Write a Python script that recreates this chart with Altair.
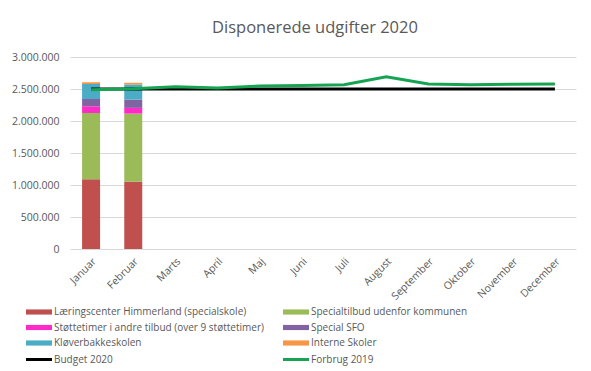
import altair as alt
import pandas as pd

months = ["Januar", "Februar", "Marts", "April", "Maj", "Juni", "Juli",
          "August", "September", "Oktober", "November", "December"]

bar_series = ["Læringscenter Himmerland (specialskole)",
              "Specialtilbud udenfor kommunen",
              "Støttetimer i andre tilbud (over 9 støttetimer)",
              "Special SFO",
              "Kløverbakkeskolen",
              "Interne Skoler"]
bar_months = ["Januar", "Februar"]
bar_values = {
    "Læringscenter Himmerland (specialskole)": [1090000, 1050000],
    "Specialtilbud udenfor kommunen": [1035000, 1065000],
    "Støttetimer i andre tilbud (over 9 støttetimer)": [105000, 90000],
    "Special SFO": [115000, 130000],
    "Kløverbakkeskolen": [235000, 235000],
    "Interne Skoler": [25000, 27000],
}

line_series = ["Budget 2020", "Forbrug 2019"]
budget_2020 = [2500000] * 12
forbrug_2019 = [2490000, 2505000, 2535000, 2515000, 2547000, 2555000,
                2567000, 2690000, 2580000, 2565000, 2575000, 2580000]

all_series = bar_series + line_series
colors = ["#C0504D", "#9BBB59", "#FF2BC8", "#8064A2", "#4BACC6", "#F79646",
          "#000000", "#16A352"]

bar_rows = []
for i, s in enumerate(bar_series):
    for j, m in enumerate(bar_months):
        bar_rows.append({"month": m, "series": s, "value": bar_values[s][j], "order": i})
bars_df = pd.DataFrame(bar_rows)

line_rows = []
for j, m in enumerate(months):
    line_rows.append({"month": m, "series": "Budget 2020", "value": budget_2020[j]})
    line_rows.append({"month": m, "series": "Forbrug 2019", "value": forbrug_2019[j]})
lines_df = pd.DataFrame(line_rows)

FONT = "Open Sans"
GREY = "#595959"

x_enc = alt.X("month:N", sort=months, title=None,
              scale=alt.Scale(domain=months, paddingInner=0, paddingOuter=0),
              axis=alt.Axis(labelAngle=-45, labelFontSize=10.5, labelColor=GREY,
                            labelFont=FONT, ticks=False, domain=False, grid=False,
                            labelPadding=7))
y_scale = alt.Scale(domain=[0, 3000000], nice=False)
y_axis = alt.Axis(values=[0, 500000, 1000000, 1500000, 2000000, 2500000, 3000000],
                  labelExpr="replace(replace(format(datum.value, ','), ',', '.'), ',', '.')",
                  labelFontSize=10.5, labelColor=GREY, labelFont=FONT, ticks=False,
                  domain=False, gridColor="#D9D9D9", gridWidth=1, labelPadding=11)

is_line = "indexof(['Budget 2020','Forbrug 2019'], datum.value) >= 0"
legend = alt.Legend(
    title=None, orient="none", legendX=-43, legendY=250, columns=2,
    direction="horizontal", columnPadding=12, rowPadding=5.5, padding=0,
    labelFont=FONT, labelFontSize=10, labelColor=GREY, labelOffset=10,
    symbolSize=144, labelLimit=400, symbolOpacity=1, symbolOffset=7,
    symbolType=alt.ExprRef(expr=is_line + " ? 'M-2.17,0H2.17' : 'M-2.17,-0.43H2.17V0.43H-2.17Z'"),
    symbolStrokeWidth=alt.ExprRef(expr=is_line + " ? 3 : 0"),
)
color_enc = alt.Color("series:N", scale=alt.Scale(domain=all_series, range=colors),
                      legend=legend)

bars = alt.Chart(bars_df).mark_bar(size=18).encode(
    x=x_enc,
    y=alt.Y("value:Q", stack="zero", scale=y_scale, axis=y_axis, title=None),
    color=color_enc,
    order=alt.Order("order:Q", sort="ascending"),
)

lines = alt.Chart(lines_df).mark_line(strokeWidth=3).encode(
    x=x_enc,
    y=alt.Y("value:Q", scale=y_scale, axis=y_axis, title=None),
    color=color_enc,
)

chart = alt.layer(bars, lines).properties(
    width=506, height=192,
    autosize=alt.AutoSizeParams(type="none"),
    padding={"left": 62, "top": 49, "right": 7, "bottom": 120},
    title=alt.TitleParams("Disponerede udgifter 2020", fontSize=16.5, font=FONT,
                          fontWeight="normal", color=GREY, anchor="middle",
                          dx=-8, offset=16),
).configure_view(stroke=None)

chart.save("out.html", embed_options={"renderer": "svg", "actions": False})
